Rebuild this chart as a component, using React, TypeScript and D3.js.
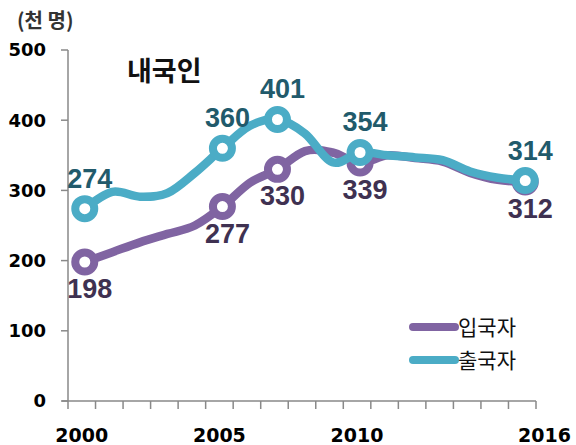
import React from 'react';
import * as d3 from 'd3';

// yearly values (thousand persons)
const years = [2000, 2001, 2002, 2003, 2004, 2005, 2006, 2007, 2008, 2009, 2010, 2011, 2012, 2013, 2014, 2015, 2016];
const arrivals = [198, 212, 226, 238, 250, 277, 311, 330, 356, 354, 339, 350, 346, 341, 325, 315, 312];
const departures = [274, 298, 291, 296, 325, 360, 392, 401, 381, 340, 354, 350, 347, 343, 327, 318, 314];
// years that carry a marker and a value label
const markedYears = [2000, 2005, 2007, 2010, 2016];
const yTicks = [0, 100, 200, 300, 400, 500];
const xLabels = [2000, 2005, 2010, 2016];

const seriesNames = ['입국자', '출국자'];
const colors = ['#8064A2', '#4BACC6'];
const labelColors = ['#3F3151', '#215A6B'];

const W = 576;
const H = 445;
const left = 68;
const right = 536;
const top = 50;
const bottom = 401;

export default function App() {
  const xBand = d3.scaleBand<number>().domain(years).range([left, right]);
  const bw = xBand.bandwidth();
  const x = d3
    .scaleLinear()
    .domain([2000, 2016])
    .range([xBand(2000)! + bw / 2 + 3, xBand(2016)! + bw / 2 + 3]);
  const y = d3.scaleLinear().domain([0, 500]).range([bottom, top]);

  const line = d3
    .line<number>()
    .x((_, i) => x(years[i]))
    .y((d) => y(d))
    .curve(d3.curveCardinal.tension(0));

  const series = [arrivals, departures];
  const tickXs = years.map((yr) => xBand(yr)!).concat([right]);
  const axisColor = '#898989';

  return (
    <svg width={W} height={H} style={{ position: 'absolute', left: 0, top: 0 }}>
      <rect width={W} height={H} fill="#fff" />

      {/* unit */}
      <text x={17} y={28} fontFamily="'Noto Sans CJK KR'" fontSize={20} fontWeight="bold" fill="#333">
        (천 명)
      </text>
      {/* title */}
      <text x={127} y={81} fontFamily="'Noto Sans CJK KR'" fontSize={27} fontWeight="bold" fill="#111">
        내국인
      </text>

      {/* y axis */}
      <line x1={left} x2={left} y1={top} y2={bottom} stroke={axisColor} strokeWidth={1.5} />
      {yTicks.map((t) => (
        <g key={t}>
          <line x1={left - 7} x2={left} y1={y(t)} y2={y(t)} stroke={axisColor} strokeWidth={1.5} />
          <text
            x={46}
            y={y(t)}
            dy="0.36em"
            textAnchor="end"
            fontFamily="'DejaVu Sans'"
            fontWeight="bold"
            fontSize={18}
            fill="#000"
          >
            {t}
          </text>
        </g>
      ))}

      {/* x axis */}
      <line x1={left - 6} x2={right} y1={bottom} y2={bottom} stroke={axisColor} strokeWidth={1.5} />
      {tickXs.map((tx, i) => (
        <line key={i} x1={tx} x2={tx} y1={bottom} y2={bottom + 8} stroke={axisColor} strokeWidth={1.5} />
      ))}
      {xLabels.map((yr) => {
        const last = yr === 2016;
        return (
          <text
            key={yr}
            x={last ? right + 35 : xBand(yr)! + bw / 2}
            y={442}
            textAnchor={last ? 'end' : 'middle'}
            fontFamily="'DejaVu Sans'"
            fontWeight="bold"
            fontSize={19}
            fill="#000"
          >
            {yr}
          </text>
        );
      })}

      {/* lines and markers */}
      {series.map((vals, s) => (
        <g key={s}>
          <path
            d={line(vals) ?? ''}
            fill="none"
            stroke={colors[s]}
            strokeWidth={8.5}
            strokeLinejoin="round"
            strokeLinecap="round"
          />
          {markedYears.map((yr) => {
            const i = years.indexOf(yr);
            return (
              <circle key={yr} cx={x(yr)} cy={y(vals[i])} r={9.5} fill="#fff" stroke={colors[s]} strokeWidth={8} />
            );
          })}
        </g>
      ))}
      {/* value labels */}
      {series.map((vals, s) =>
        markedYears.map((yr) => {
          const i = years.indexOf(yr);
          const above = s === 1;
          return (
            <text
              key={`${s}-${yr}`}
              x={x(yr) + 5}
              y={y(vals[i]) + (above ? -21 : 36)}
              textAnchor="middle"
              fontFamily="'Liberation Sans', Arial"
              fontWeight="bold"
              fontSize={27}
              fill={labelColors[s]}
            >
              {vals[i]}
            </text>
          );
        })
      )}

      {/* legend */}
      {seriesNames.map((name, s) => (
        <g key={name} transform={`translate(413, ${327 + s * 33})`}>
          <line x1={0} x2={42} y1={0} y2={0} stroke={colors[s]} strokeWidth={8} strokeLinecap="round" />
          <text x={45} y={0} dy="0.36em" fontFamily="'Noto Sans CJK KR'" fontSize={21} fill="#111">
            {name}
          </text>
        </g>
      ))}
    </svg>
  );
}
